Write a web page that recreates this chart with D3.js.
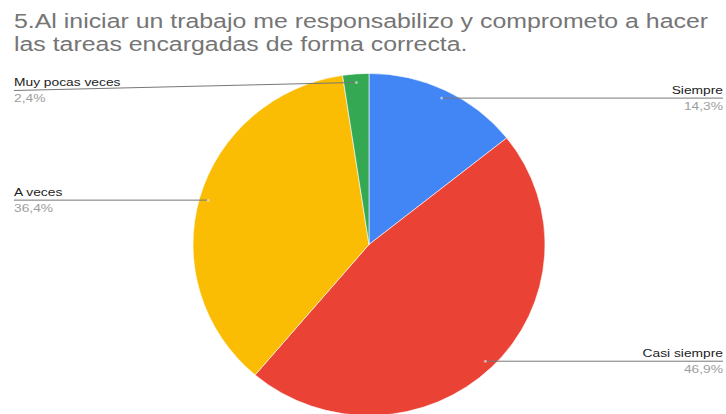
<!DOCTYPE html>
<html>
<head>
<meta charset="utf-8">
<script src="https://cdn.jsdelivr.net/npm/d3@7"></script>
<style>
  html, body { margin: 0; padding: 0; background: #fff; }
  svg { display: block; }
</style>
</head>
<body>
<svg id="chart" width="726" height="414"></svg>
<script>
// Survey answers and their shares (percent)
const categories = ["Siempre", "Casi siempre", "A veces", "Muy pocas veces"];
const shares = [14.3, 46.9, 36.4, 2.4];
const shareLabels = ["14,3%", "46,9%", "36,4%", "2,4%"];
const colors = ["#4285f4", "#ea4335", "#fbbc04", "#34a853"];
const titleLines = [
  "5.Al iniciar un trabajo me responsabilizo y comprometo a hacer",
  "las tareas encargadas de forma correcta."
];

const cx = 369, cy = 244.5, R = 176, squash = 0.972;
const font = "'Liberation Sans', Arial, sans-serif";
const textStretch = 1.2;   // wide rendering of the chart's text

const svg = d3.select("#chart");

// Title (two lines)
svg.append("g")
  .attr("transform", `translate(14,0) scale(1.185,1)`)
  .append("text")
  .attr("font-family", font).attr("font-size", 21)
  .attr("fill", "#757575")
  .selectAll("tspan").data(titleLines).join("tspan")
  .attr("x", 0).attr("y", (d, i) => 28 + i * 23)
  .text(d => d);

const data = categories.map((c, i) => ({ name: c, value: shares[i], label: shareLabels[i], color: colors[i] }));

const pie = d3.pie().value(d => d.value).sort(null);
const arcs = pie(data);
const arc = d3.arc().innerRadius(0).outerRadius(R);
const anchorArc = d3.arc().innerRadius(R * 0.95).outerRadius(R * 0.95);

const g = svg.append("g").attr("transform", `translate(${cx},${cy}) scale(1,${squash})`);
g.selectAll("path").data(arcs).join("path")
  .attr("d", arc)
  .attr("fill", d => d.data.color)
  .attr("stroke", "#fff").attr("stroke-width", 0.6);

// Leader lines and labels
const leftX = 14, rightX = 723, minLineY = 90.5;
const labels = svg.append("g");
arcs.forEach(a => {
  const [ax, ayRaw] = anchorArc.centroid(a);
  const px = cx + ax, py = cy + ayRaw * squash;
  const right = px > cx;
  const lineY = Math.max(py, minLineY);
  const endX = right ? rightX : leftX;
  labels.append("line")
    .attr("x1", px).attr("y1", py).attr("x2", endX).attr("y2", lineY)
    .attr("stroke", "#777").attr("stroke-width", 1);
  labels.append("circle")
    .attr("cx", px).attr("cy", py).attr("r", 1.5)
    .attr("fill", "#ffffff").attr("opacity", 0.5);
  const tg = labels.append("g")
    .attr("transform", `translate(${endX},${lineY}) scale(${textStretch},1)`)
    .attr("text-anchor", right ? "end" : "start")
    .attr("font-family", font).attr("font-size", 11.5);
  tg.append("text").attr("x", 0).attr("y", -4.5)
    .attr("fill", "#222").text(a.data.name);
  tg.append("text").attr("x", 0).attr("y", 12)
    .attr("fill", "#9e9e9e").text(a.data.label);
});
</script>
</body>
</html>
